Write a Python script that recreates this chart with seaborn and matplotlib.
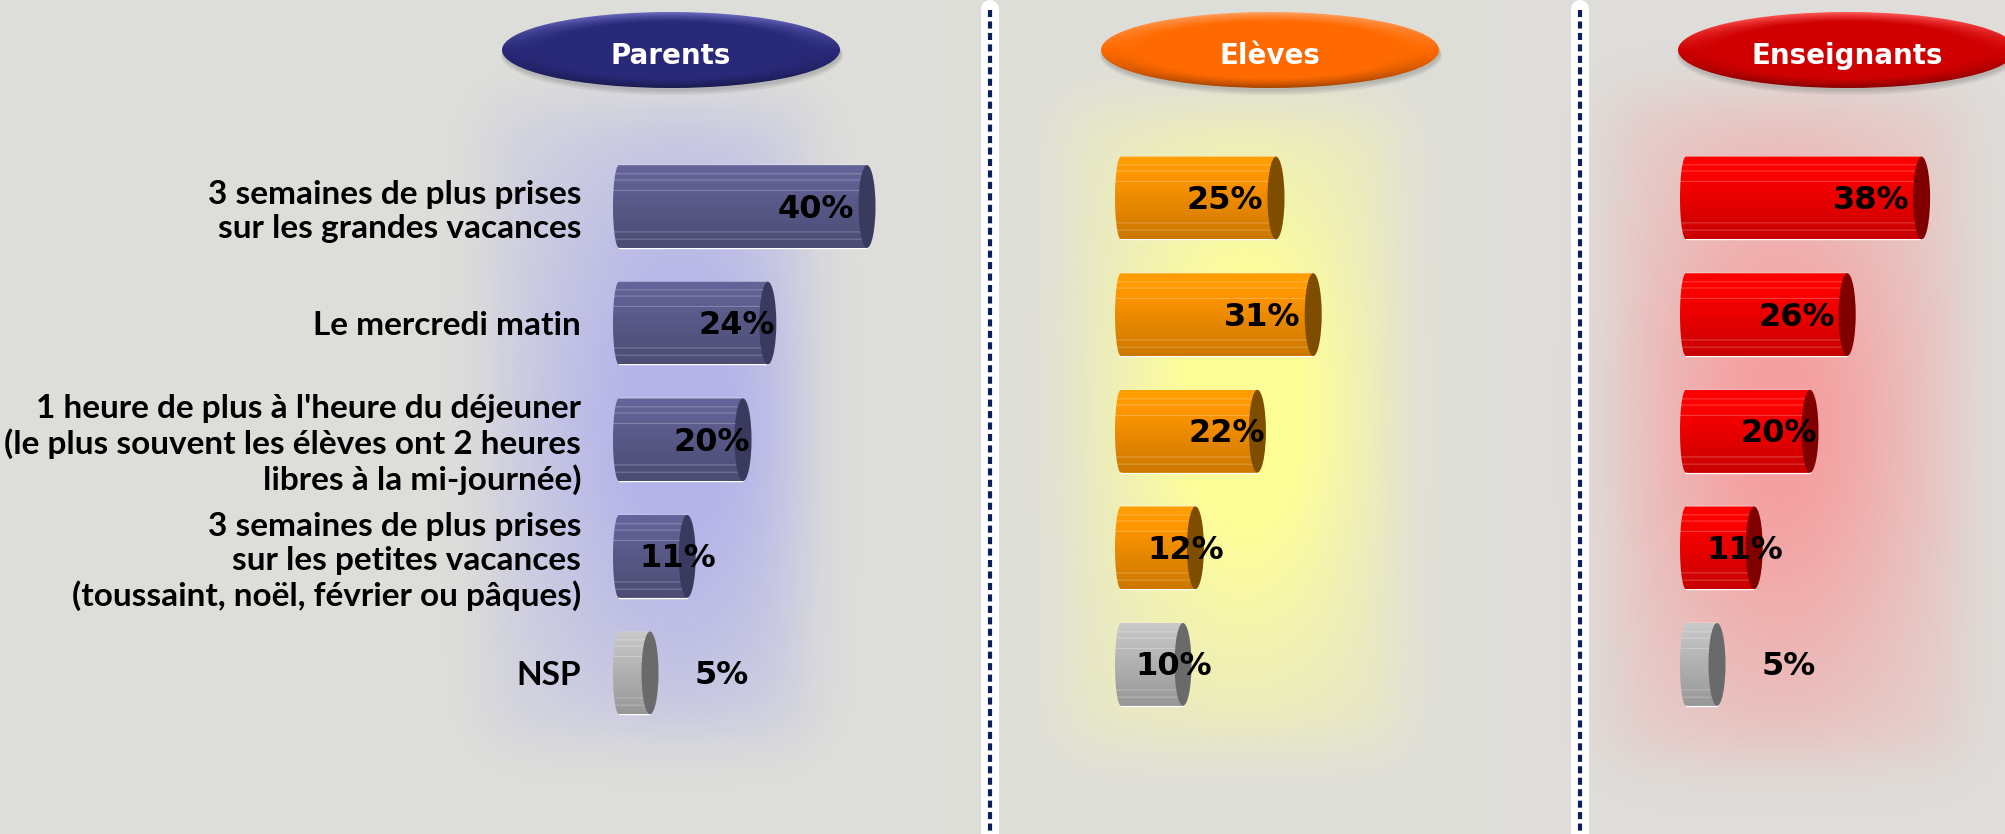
import numpy as np
import pandas as pd
import matplotlib
matplotlib.use("Agg")
import matplotlib.pyplot as plt
import seaborn as sns
from matplotlib.patches import Ellipse, PathPatch
from matplotlib.path import Path
from matplotlib import colors as mcolors

# data
categories = [
    "3 semaines de plus prises\nsur les grandes vacances",
    "Le mercredi matin",
    "1 heure de plus à l'heure du déjeuner\n(le plus souvent les élèves ont 2 heures\nlibres à la mi-journée)",
    "3 semaines de plus prises\nsur les petites vacances\n(toussaint, noël, février ou pâques)",
    "NSP",
]
groups = ["Parents", "Elèves", "Enseignants"]
parents = [40, 24, 20, 11, 5]
eleves = [25, 31, 22, 12, 10]
enseignants = [38, 26, 20, 11, 5]

sns.set_theme(style="white")
plt.rcParams["font.family"] = ["DejaVu Sans"]

W, H = 2006, 834
PX = 6.2      # pixels per percent
ROW = 116.6   # pixels per category row
XMIN = -2.0

fig = plt.figure(figsize=(W / 100, H / 100), dpi=100)
bg_ax = fig.add_axes([0, 0, 1, 1])
bg_ax.set_xlim(0, W)
bg_ax.set_ylim(H, 0)
bg_ax.axis("off")

# background with soft glows behind each panel
yy, xx = np.mgrid[0:H, 0:W] + 0.5
img = np.ones((H, W, 3)) * np.array([222, 222, 218]) / 255


def sig(z):
    return 1 / (1 + np.exp(-z))


def glow(img, tint, rect, a_rect, center, sigma, a_peak):
    x0, x1, y0, y1 = rect
    e = 18
    fr = sig((xx - x0) / e) * sig((x1 - xx) / e) * sig((yy - y0) / e) * sig((y1 - yy) / e)
    g = np.exp(-0.5 * (((xx - center[0]) / sigma[0]) ** 2 + ((yy - center[1]) / sigma[1]) ** 2))
    a = np.clip(a_rect * fr + a_peak * g * fr, 0, 1)[..., None]
    return img * (1 - a) + np.array(tint) / 255 * a


img = glow(img, (180, 180, 234), (489, 809, 105, 737), 0.25, (679, 420), (100, 200), 0.85)
img = glow(img, (255, 255, 150), (1066, 1400, 105, 746), 0.3, (1245, 410), (85, 170), 0.85)
img = glow(img, (245, 160, 160), (1610, 1965, 95, 760), 0.25, (1780, 425), (95, 190), 0.8)
bg_ax.imshow(img, extent=(0, W, H, 0), aspect="auto", zorder=0)

# dashed separators
for xs in (990, 1580):
    bg_ax.plot([xs, xs], [9, H + 5], color="white", lw=13, solid_capstyle="round", zorder=2)
    bg_ax.plot([xs, xs], [10, H + 5], color="#0B1F5C", lw=3, dashes=(1.7, 1.05), zorder=3)

# header ellipses
headers = [(671, "#29297A", "#6A6AC0"), (1270, "#FF6A00", "#FFA060"), (1847, "#D00000", "#FF5A5A")]
for name, (cx, base, rim) in zip(groups, headers):
    cy, w, h = 50, 338, 76
    for k in range(3):
        bg_ax.add_patch(Ellipse((cx + 1, cy + 3 + k), w + 2 * k, h + 2 * k,
                                fc="#555555", ec="none", alpha=0.1, zorder=2))
    v2, u2 = np.mgrid[-1:1:120j, -1:1:400j]
    r = np.sqrt(u2 ** 2 + v2 ** 2)
    t = np.clip((r - 0.75) / 0.25, 0, 1)[..., None]
    b = np.array(mcolors.to_rgb(base))
    lt = np.array(mcolors.to_rgb(rim))
    up = np.clip(-v2, 0, 1)[..., None]
    dn = np.clip(v2, 0, 1)[..., None]
    arr = np.clip(b + (lt - b) * t * up - b * 0.35 * t * dn, 0, 1)
    im = bg_ax.imshow(arr, extent=(cx - w / 2, cx + w / 2, cy + h / 2, cy - h / 2),
                      aspect="auto", zorder=3, interpolation="bilinear")
    im.set_clip_path(Ellipse((cx, cy), w, h, transform=bg_ax.transData))
    bg_ax.text(cx, 64, name, ha="center", va="baseline", color="white",
               fontsize=20, fontweight="bold", zorder=4)
bg_ax.set_xlim(0, W)
bg_ax.set_ylim(H, 0)


def body_img(color):
    rgb = np.array(mcolors.to_rgb(color))
    f = np.linspace(1.12, 0.84, 80)
    arr = np.clip(rgb[None, :] * f[:, None], 0, 1)
    for s in (0.1, 0.18, 0.3, 0.81, 0.89):
        i = int(s * 80)
        arr[i] = arr[i] * 0.75 + 0.25
    return arr[:, None, :]


def label_offset(v):
    if v < 8:
        return 11.5
    if v < 15:
        return -1.5
    if v < 25:
        return -5
    return -8.2


grey_body, grey_cap = "#B4B4B4", "#6A6A6A"
panels = [
    (parents, "#5A5A8A", "#3A3A5E", 619, 206.5),
    (eleves, "#F28E00", "#7F4D00", 1121, 198),
    (enseignants, "#EE0000", "#800000", 1686, 198),
]

for p, (vals, body, cap, zero_px, first_row) in enumerate(panels):
    top = first_row - ROW / 2
    left = zero_px + XMIN * PX
    width = min(340, W - left)
    ax = fig.add_axes([left / W, 1 - (top + 5 * ROW) / H, width / W, 5 * ROW / H])
    df = pd.DataFrame({"categorie": categories, "pct": vals})
    pal = [body] * 4 + [grey_body]
    sns.barplot(data=df, x="pct", y="categorie", hue="categorie", palette=pal,
                width=0.71, saturation=1, errorbar=None, legend=False, ax=ax)
    bars = list(ax.patches)
    a = 6 / PX
    cw = 17 / PX
    for i, bar in enumerate(bars):
        v = bar.get_width()
        cy = bar.get_y() + bar.get_height() / 2
        hb = bar.get_height() / 2
        bcol = body if i < 4 else grey_body
        ccol = cap if i < 4 else grey_cap
        t = np.linspace(np.pi / 2, 3 * np.pi / 2, 30)
        arc = np.column_stack([a * np.cos(t), cy + hb * np.sin(t)])
        verts = [(0, cy - hb), (v, cy - hb), (v, cy + hb)] + arc.tolist() + [(0, cy - hb)]
        clip = PathPatch(Path(verts, closed=True), transform=ax.transData)
        im = ax.imshow(body_img(bcol), extent=(-a, v, cy + hb, cy - hb), aspect="auto",
                       zorder=3, interpolation="bilinear")
        im.set_clip_path(clip)
        ax.add_patch(Ellipse((v, cy), cw, 2 * hb, fc=ccol, ec="none", zorder=4))
        ax.text(v + label_offset(v), cy + 11 / ROW, f"{v:.0f}%", ha="center", va="baseline",
                fontsize=23, fontweight="bold", color="black", zorder=5)
    ax.set_xlim(XMIN, XMIN + width / PX)
    ax.set_ylim(4.5, -0.5)
    ax.set_xlabel("")
    ax.set_ylabel("")
    ax.set_xticks([])
    ax.set_facecolor("none")
    for s in ax.spines.values():
        s.set_visible(False)
    if p == 0:
        ax.tick_params(axis="y", length=0, pad=18.4)
        for lab in ax.get_yticklabels():
            lab.set_fontfamily("Lato")
            lab.set_fontweight("bold")
            lab.set_fontsize(24)
            lab.set_color("black")
    else:
        ax.tick_params(axis="y", length=0, labelleft=False)

fig.savefig("out.png", dpi=100)
